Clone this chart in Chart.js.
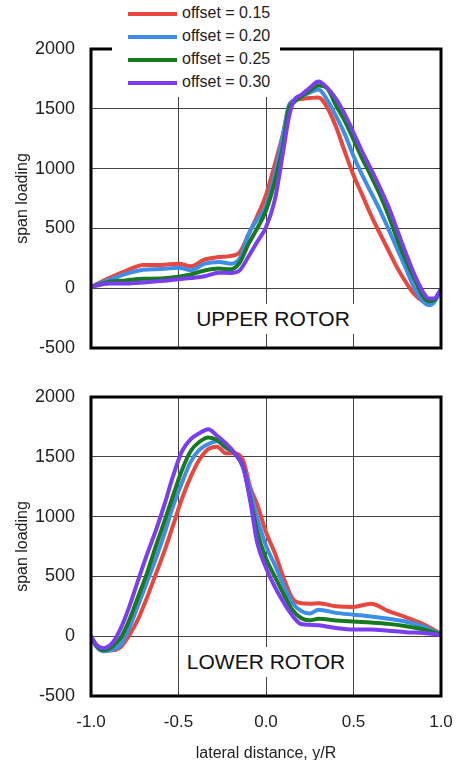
<!DOCTYPE html>
<html>
<head>
<meta charset="utf-8">
<script src="https://cdn.jsdelivr.net/npm/chart.js@4.4.0/dist/chart.umd.min.js"></script>
<style>
  body { margin: 0; background: #fff; font-family: "Liberation Sans", Arial, sans-serif; }
  #wrap { position: relative; width: 461px; height: 760px; overflow: hidden; }
  canvas { position: absolute; left: 0; }
  #upperChart { top: 0; }
  #lowerChart { top: 370px; }
  #legend { position: absolute; left: 112px; top: 0; width: 168px; height: 97px; background: #fff; }
  #legend .row { position: absolute; left: 16px; height: 20px; line-height: 20px; font-size: 16px; color: #222; white-space: nowrap; }
  #legend .swatch { display: inline-block; width: 49px; height: 4px; vertical-align: middle; margin-right: 5px; }
  .rotor { position: absolute; background: #fff; font-size: 21px; color: #111; text-align: center; height: 30px; line-height: 30px; }
</style>
</head>
<body>
<div id="wrap">
  <canvas id="upperChart" width="461" height="370"></canvas>
  <canvas id="lowerChart" width="461" height="390"></canvas>
  <div id="legend"></div>
  <div class="rotor" style="left:188px; top:304px; width:170px;">UPPER ROTOR</div>
  <div class="rotor" style="left:182px; top:647px; width:168px;">LOWER ROTOR</div>
</div>
<script>
const seriesLabels = ["offset = 0.15", "offset = 0.20", "offset = 0.25", "offset = 0.30"];
const seriesColors = ["#e8473e", "#3d8ee8", "#167a1e", "#7a3ef2"];

const xTicks = [-1, -0.5, 0, 0.5, 1];
const xTickLabels = ["-1.0", "-0.5", "0.0", "0.5", "1.0"];
const yTicks = [-500, 0, 500, 1000, 1500, 2000];
const yTickLabels = ["-500", "0", "500", "1000", "1500", "2000"];

// upper rotor
const upperX = [-1, -0.9, -0.8, -0.7, -0.6, -0.5, -0.43, -0.35, -0.27, -0.2, -0.15, -0.1, -0.05, 0, 0.05, 0.1, 0.13, 0.16, 0.2, 0.25, 0.3, 0.35, 0.4, 0.45, 0.5, 0.55, 0.6, 0.65, 0.7, 0.75, 0.8, 0.85, 0.9, 0.93, 0.96, 1];
const upper15 = [10, 83, 145, 195, 195, 205, 183, 240, 260, 270, 300, 448, 604, 780, 1035, 1308, 1520, 1570, 1582, 1590, 1595, 1510, 1350, 1143, 945, 780, 611, 460, 315, 170, 48, -55, -114, -128, -100, -20];
const upper20 = [10, 67, 120, 155, 160, 172, 150, 205, 220, 205, 250, 452, 575, 690, 953, 1304, 1520, 1570, 1600, 1635, 1662, 1574, 1440, 1290, 1105, 945, 800, 655, 494, 328, 163, -7, -115, -142, -120, -10];
const upper25 = [10, 52, 65, 78, 81, 95, 115, 148, 164, 159, 215, 370, 500, 650, 891, 1215, 1500, 1555, 1600, 1650, 1695, 1670, 1528, 1400, 1244, 1084, 940, 786, 610, 409, 232, 71, -72, -110, -100, -10];
const upper30 = [10, 39, 40, 48, 60, 75, 85, 100, 130, 128, 150, 265, 388, 510, 736, 1160, 1425, 1570, 1615, 1675, 1728, 1675, 1584, 1456, 1300, 1140, 996, 844, 680, 485, 289, 107, -38, -86, -86, -10];

// lower rotor
const lowerX = [-1, -0.97, -0.93, -0.88, -0.83, -0.78, -0.73, -0.68, -0.63, -0.58, -0.53, -0.48, -0.43, -0.38, -0.33, -0.28, -0.23, -0.18, -0.13, -0.09, -0.05, 0, 0.05, 0.1, 0.15, 0.2, 0.25, 0.3, 0.4, 0.5, 0.6, 0.7, 0.8, 0.9, 1];
const lower15 = [0, -80, -120, -118, -90, 10, 146, 323, 517, 713, 932, 1151, 1334, 1477, 1565, 1585, 1530, 1530, 1467, 1244, 1100, 870, 697, 490, 318, 275, 272, 275, 250, 245, 272, 210, 158, 100, 20];
const lower20 = [0, -85, -125, -115, -71, 75, 262, 454, 647, 860, 1093, 1285, 1460, 1560, 1607, 1630, 1575, 1530, 1411, 1216, 987, 756, 597, 426, 281, 212, 190, 222, 195, 180, 165, 146, 121, 81, 15];
const lower25 = [0, -80, -117, -90, -14, 140, 332, 527, 750, 962, 1180, 1390, 1549, 1626, 1662, 1640, 1583, 1530, 1411, 1150, 872, 650, 500, 353, 222, 152, 133, 145, 132, 122, 114, 103, 84, 57, 15];
const lower30 = [0, -70, -100, -60, 66, 251, 471, 684, 882, 1102, 1344, 1547, 1648, 1698, 1731, 1676, 1613, 1533, 1411, 1130, 780, 573, 415, 284, 174, 102, 95, 92, 68, 55, 55, 45, 34, 27, 10];

const framePlugin = {
  id: "frame",
  afterDraw(chart) {
    const { ctx, chartArea: a } = chart;
    ctx.save();
    ctx.strokeStyle = "#000";
    ctx.lineWidth = 3;
    ctx.strokeRect(a.left, a.top, a.right - a.left, a.bottom - a.top);
    ctx.restore();
  }
};

function makeChart(canvasId, xs, seriesList, isLower) {
  const datasets = seriesList.map((vals, i) => ({
    label: seriesLabels[i],
    data: xs.map((x, j) => ({ x, y: vals[j] })),
    borderColor: seriesColors[i],
    backgroundColor: seriesColors[i],
    borderWidth: 4,
    pointRadius: 0,
    cubicInterpolationMode: "monotone",
    order: 4 - i
  }));
  return new Chart(document.getElementById(canvasId), {
    type: "line",
    data: { datasets },
    options: {
      responsive: false,
      animation: false,
      layout: { padding: { left: 0, right: 20, top: isLower ? 27 : 49, bottom: isLower ? 0 : 22 } },
      plugins: { legend: { display: false }, tooltip: { enabled: false } },
      scales: {
        x: {
          type: "linear",
          min: -1,
          max: 1,
          afterBuildTicks: (s) => { s.ticks = xTicks.map((v) => ({ value: v })); },
          afterFit: (s) => { s.height = isLower ? 64 : 0; },
          grid: { color: "#444", lineWidth: 1, drawTicks: true, tickLength: 12, tickColor: "rgba(0,0,0,0)" },
          border: { display: false },
          ticks: {
            display: isLower,
            padding: 4,
            color: "#222",
            font: { family: "Liberation Sans", size: 17 },
            callback: (v, i) => xTickLabels[i]
          },
          title: {
            display: isLower,
            text: "lateral distance, y/R",
            color: "#222",
            font: { family: "Liberation Sans", size: 16, lineHeight: 0.75 },
            padding: 0
          }
        },
        y: {
          min: -500,
          max: 2000,
          afterBuildTicks: (s) => { s.ticks = yTicks.map((v) => ({ value: v })); },
          afterFit: (s) => { s.width = 91; },
          grid: { color: "#444", lineWidth: 1, drawTicks: true, tickLength: 12, tickColor: "rgba(0,0,0,0)" },
          border: { display: false },
          ticks: {
            padding: 4,
            color: "#222",
            font: { family: "Liberation Sans", size: 18 },
            callback: (v, i) => yTickLabels[i]
          },
          title: {
            display: true,
            text: "span loading",
            color: "#222",
            font: { family: "Liberation Sans", size: 16 },
            padding: { top: 13, bottom: 0 }
          }
        }
      }
    },
    plugins: [framePlugin]
  });
}

makeChart("upperChart", upperX, [upper15, upper20, upper25, upper30], false);
makeChart("lowerChart", lowerX, [lower15, lower20, lower25, lower30], true);

const legend = document.getElementById("legend");
seriesLabels.forEach((label, i) => {
  const row = document.createElement("div");
  row.className = "row";
  row.style.top = (3 + i * 23) + "px";
  row.innerHTML = `<span class="swatch" style="background:${seriesColors[i]}"></span>${label}`;
  legend.appendChild(row);
});
</script>
</body>
</html>
